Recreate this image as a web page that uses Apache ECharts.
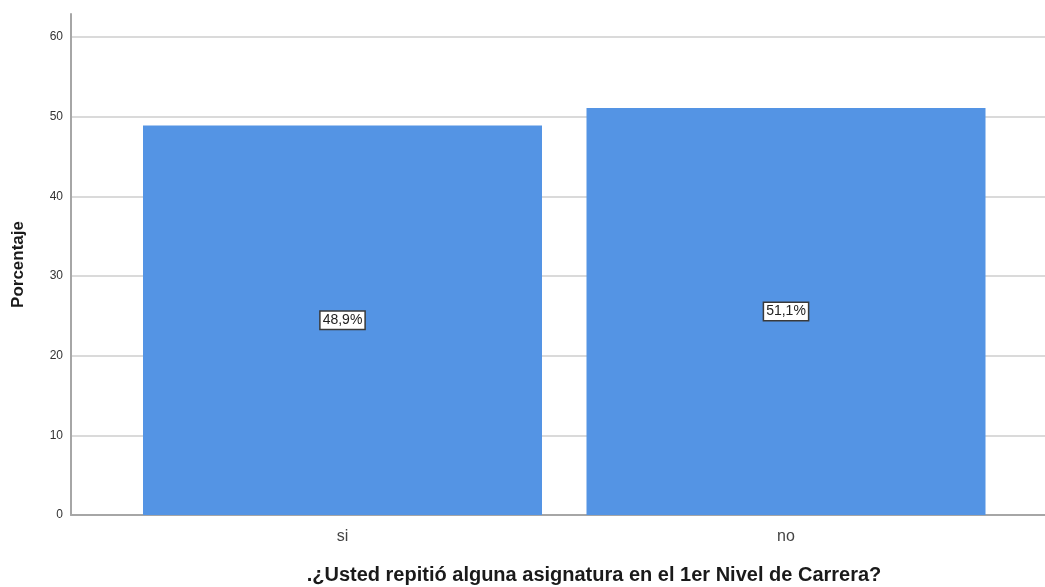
<!DOCTYPE html>
<html><head><meta charset="utf-8">
<script src="https://cdn.jsdelivr.net/npm/echarts@6/dist/echarts.min.js"></script>
<style>html,body{margin:0;padding:0;background:#fff}#c{width:1045px;height:587px}</style>
</head><body><div id="c"></div>
<script>
const categories = ['si', 'no'];
const values = [48.9, 51.1];
const yTicks = [0, 10, 20, 30, 40, 50, 60];
const yAxisTitle = 'Porcentaje';
const xAxisTitle = '.¿Usted repitió alguna asignatura en el 1er Nivel de Carrera?';

const chart = echarts.init(document.getElementById('c'), null, {renderer: 'canvas'});
const fontFam = '"Liberation Sans", Arial, sans-serif';
const gridTop = 14, gridBottom = 587 - 515;
chart.setOption({
  animation: false,
  backgroundColor: '#fff',
  title: {
    text: xAxisTitle, left: 589, top: 560, textAlign: 'center',
    textStyle: {fontFamily: fontFam, fontSize: 20, fontWeight: 'bold', color: '#1a1a1a'}
  },
  grid: [
    {left: 71, width: 986, top: gridTop, bottom: gridBottom, containLabel: false},
    {left: 120.75, width: 887, top: gridTop, bottom: gridBottom, containLabel: false}
  ],
  xAxis: [
    {gridIndex: 0, type: 'value', min: 0, max: 1, show: true,
     axisLine: {show: true, lineStyle: {color: '#a6a6a6', width: 2}},
     axisTick: {show: false}, axisLabel: {show: false}, splitLine: {show: false}},
    {gridIndex: 1, type: 'category', data: categories,
     axisLine: {show: false}, axisTick: {show: false},
     axisLabel: {color: '#444', fontSize: 16, fontFamily: fontFam, margin: 14}}
  ],
  yAxis: [
    {gridIndex: 0, type: 'value', min: 0, max: 62.9, interval: 10,
     name: yAxisTitle, nameLocation: 'middle', nameGap: 44, nameRotate: 90,
     nameTextStyle: {fontFamily: fontFam, fontSize: 17, fontWeight: 'bold', color: '#1a1a1a'},
     axisLine: {show: true, lineStyle: {color: '#a6a6a6', width: 2}},
     axisTick: {show: false},
     axisLabel: {color: '#333', fontSize: 12, fontFamily: fontFam, margin: 8, showMaxLabel: false,
       formatter: v => yTicks.includes(v) ? String(v) : ''},
     splitLine: {show: true, showMinLine: false, showMaxLine: false, lineStyle: {color: '#dadada', width: 2}}},
    {gridIndex: 1, type: 'value', min: 0, max: 62.9, show: false, splitLine: {show: false}}
  ],
  series: [{
    type: 'bar', xAxisIndex: 1, yAxisIndex: 1, data: values, barWidth: 399,
    itemStyle: {color: '#5494e4'},
    label: {show: true, position: 'inside',
      formatter: p => p.value.toFixed(1).replace('.', ',') + '%',
      color: '#222', fontSize: 14, fontFamily: fontFam,
      backgroundColor: '#fff', borderColor: '#3a3a3a', borderWidth: 1.5, padding: [2, 2, 1, 2]}
  }]
});
</script></body></html>
